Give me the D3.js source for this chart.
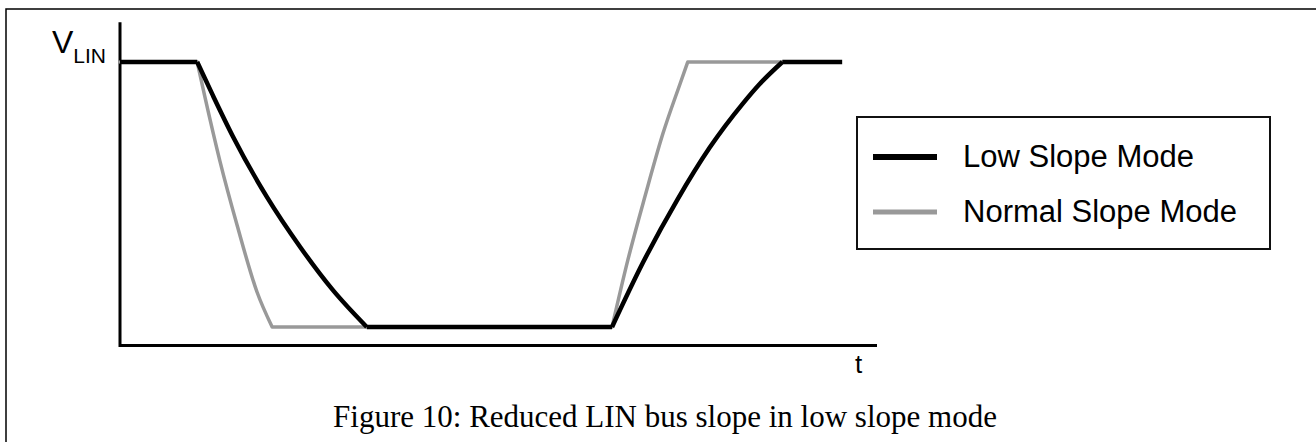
<!DOCTYPE html>
<html lang="en">
<head>
    <meta charset="UTF-8">
    <title>Figure 10: Reduced LIN bus slope in low slope mode</title>
    <script src="https://cdnjs.cloudflare.com/ajax/libs/d3/7.8.5/d3.min.js"></script>
    <style>
        html, body { margin: 0; padding: 0; background: #fff; }
        svg { display: block; }
        .sans { font-family: "Liberation Sans", Arial, sans-serif; fill: #000; }
        .serif { font-family: "Liberation Serif", "Times New Roman", serif; fill: #000; }
    </style>
</head>
<body>
    <div id="chart"></div>

    <script>
        // time in arbitrary units, voltage normalised (0 = low level, 1 = V_LIN)
        const lowSlopeFall = [[1.02, 1], [1.23, 0.872], [1.49, 0.72], [1.94, 0.491], [2.38, 0.302], [2.81, 0.14], [3.26, 0]];
        const lowSlopeRise = [[6.50, 0], [6.91, 0.244], [7.36, 0.479], [7.79, 0.677], [8.23, 0.844], [8.45, 0.917], [8.75, 1]];
        const normalFall = [[1.02, 1], [1.12, 0.87], [1.32, 0.626], [1.55, 0.381], [1.81, 0.132], [2.01, 0]];
        const normalRise = [[6.50, 0], [6.71, 0.254], [6.94, 0.498], [7.17, 0.728], [7.40, 0.919], [7.50, 1]];
        const tStart = 0;
        const tEndLow = 9.54;
        const tEndNormal = 8.75;
        const tAxisMax = 10;
        const vAxisMin = -0.07;
        const vAxisMax = 1.15;
        const legendLabels = ["Low Slope Mode", "Normal Slope Mode"];
        const legendColors = ["#000", "#999"];
        const caption = "Figure 10: Reduced LIN bus slope in low slope mode";

        const width = 1316;
        const height = 442;

        const svg = d3.select("#chart").append("svg")
            .attr("width", width)
            .attr("height", height);

        // page frame (top and left rule)
        svg.append("path")
            .attr("d", `M6,${height} L6,9 L${width},9`)
            .attr("fill", "none")
            .attr("stroke", "#000")
            .attr("stroke-width", 1.5);

        const x = d3.scaleLinear().domain([0, tAxisMax]).range([120, 877]);
        const y = d3.scaleLinear().domain([0, 1]).range([327, 62]);

        // axes
        svg.append("path")
            .attr("d", `M${x(0)},${y(vAxisMax)} L${x(0)},${y(vAxisMin)} L${x(tAxisMax)},${y(vAxisMin)}`)
            .attr("fill", "none")
            .attr("stroke", "#000")
            .attr("stroke-width", 3);

        const curve = d3.line()
            .x(d => x(d[0]))
            .y(d => y(d[1]))
            .curve(d3.curveMonotoneX);
        const straight = d3.line()
            .x(d => x(d[0]))
            .y(d => y(d[1]));

        // a series = flat high, fall, flat low, rise, flat high
        function seriesPath(fall, rise, tEnd) {
            return straight([[tStart, 1], fall[0]]) +
                curve(fall) +
                straight([fall[fall.length - 1], rise[0]]) +
                curve(rise) +
                straight([rise[rise.length - 1], [tEnd, 1]]);
        }

        svg.append("path")
            .attr("d", seriesPath(normalFall, normalRise, tEndNormal))
            .attr("fill", "none")
            .attr("stroke", legendColors[1])
            .attr("stroke-width", 3.5)
            .attr("stroke-linejoin", "round")
            .attr("stroke-linecap", "round");

        svg.append("path")
            .attr("d", seriesPath(lowSlopeFall, lowSlopeRise, tEndLow))
            .attr("fill", "none")
            .attr("stroke", legendColors[0])
            .attr("stroke-width", 4.5)
            .attr("stroke-linejoin", "round")
            .attr("stroke-linecap", "butt");

        // V_LIN label
        const vLabel = svg.append("text")
            .attr("class", "sans")
            .attr("x", 52)
            .attr("y", 53)
            .style("font-size", "32px")
            .text("V");
        vLabel.append("tspan")
            .attr("dy", 10)
            .style("font-size", "21px")
            .text("LIN");

        // t label
        svg.append("text")
            .attr("class", "sans")
            .attr("x", 855)
            .attr("y", 373)
            .style("font-size", "26px")
            .text("t");

        // legend
        svg.append("rect")
            .attr("x", 857)
            .attr("y", 117)
            .attr("width", 413)
            .attr("height", 132)
            .attr("fill", "#fff")
            .attr("stroke", "#111")
            .attr("stroke-width", 2);

        const legend = svg.selectAll(".legend")
            .data(legendLabels)
            .enter().append("g")
            .attr("class", "legend")
            .attr("transform", (d, i) => `translate(0,${157 + i * 55})`);

        legend.append("line")
            .attr("x1", 873)
            .attr("x2", 937)
            .attr("stroke", (d, i) => legendColors[i])
            .attr("stroke-width", (d, i) => i === 0 ? 6 : 5);

        legend.append("text")
            .attr("class", "sans")
            .attr("x", 963)
            .attr("y", 10)
            .style("font-size", "31px")
            .text(d => d);

        // caption
        svg.append("text")
            .attr("class", "serif")
            .attr("x", 665)
            .attr("y", 427)
            .attr("text-anchor", "middle")
            .style("font-size", "31px")
            .text(caption);
    </script>
</body>
</html>
